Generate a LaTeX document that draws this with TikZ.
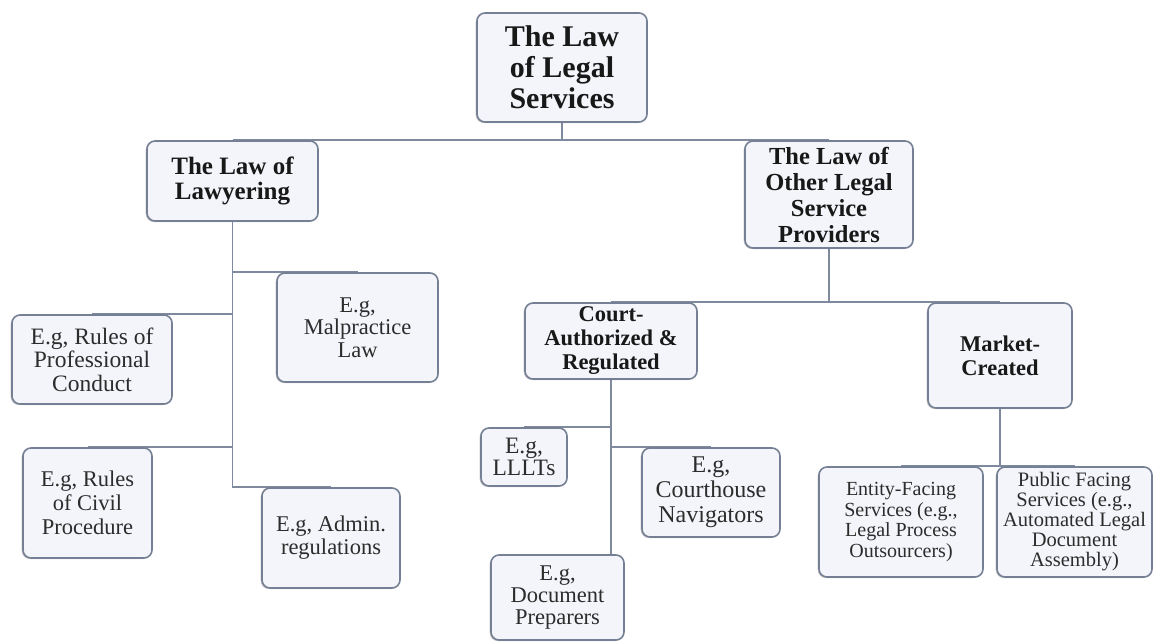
\documentclass[tikz,border=0pt]{standalone}
\usepackage{fontspec}
\setmainfont{Liberation Serif}
\usetikzlibrary{backgrounds,shadows}
\definecolor{boxfill}{RGB}{243,245,250}
\definecolor{boxline}{RGB}{118,128,148}
\definecolor{linkline}{RGB}{128,138,158}
\definecolor{headtext}{RGB}{24,24,24}
\definecolor{bodytext}{RGB}{44,44,44}
\tikzset{
  box/.style={draw=boxline, line width=1.6pt, fill=boxfill, rounded corners=8pt,
    align=center, inner sep=2pt,
    drop shadow={shadow xshift=-1.3pt, shadow yshift=-1pt, fill=black, opacity=0.22}},
  headbox/.style={box, text=headtext, font=\bfseries},
  itembox/.style={box, text=bodytext},
  link/.style={draw=linkline, line width=1.6pt},
}
\newcommand{\fsz}[2]{\fontsize{#1}{#2}\selectfont}
\begin{document}
\begin{tikzpicture}[x=1pt, y=-1pt]
\useasboundingbox (0,0) rectangle (1156,642);

% top level
\node[headbox, minimum width=170pt, minimum height=109pt, font=\bfseries\fsz{30}{31}]
  (top) at (562,67.5) {The Law\\of Legal\\Services};

% second level
\node[headbox, minimum width=171pt, minimum height=80pt, font=\bfseries\fsz{25}{25.5}]
  (law) at (232.5,181) {The Law of\\Lawyering};
\node[headbox, minimum width=168pt, minimum height=107pt, font=\bfseries\fsz{24.5}{26}]
  (other) at (829,194.5) {The Law of\\Other Legal\\Service\\Providers};

% lawyering examples
\node[itembox, minimum width=160pt, minimum height=89pt, font=\fsz{23.5}{23.5}]
  (rpc) at (92,359.5) {E.g, Rules of\\Professional\\Conduct};
\node[itembox, minimum width=161pt, minimum height=109pt, font=\fsz{22.5}{22.5}]
  (mal) at (357.5,327.5) {E.g,\\Malpractice\\Law};
\node[itembox, minimum width=129pt, minimum height=110pt, font=\fsz{22.5}{24}]
  (rcp) at (87.5,503) {E.g, Rules\\of Civil\\Procedure};
\node[itembox, minimum width=138pt, minimum height=100pt, font=\fsz{22.5}{23}]
  (adm) at (331,538) {E.g, Admin.\\regulations};

% other providers, third level
\node[headbox, minimum width=172pt, minimum height=76pt, font=\bfseries\fsz{22.5}{24}]
  (court) at (611,341) {Court-\\Authorized \&\\Regulated};
\node[headbox, minimum width=144pt, minimum height=105pt, font=\bfseries\fsz{22.5}{24}]
  (mkt) at (1000,355.5) {Market-\\Created};

% court-authorized examples
\node[itembox, minimum width=86pt, minimum height=58pt, font=\fsz{23.5}{22}]
  (lll) at (524,457) {E.g,\\LLLTs};
\node[itembox, minimum width=138pt, minimum height=89pt, font=\fsz{24}{25}]
  (crt) at (711,492.5) {E.g,\\Courthouse\\Navigators};
\node[itembox, minimum width=133pt, minimum height=85pt, font=\fsz{22.5}{22}]
  (doc) at (557.5,597.5) {E.g,\\Document\\Preparers};

% market-created examples
\node[itembox, minimum width=164pt, minimum height=110pt, font=\fsz{20}{20.5}]
  (ent) at (901,522) {Entity-Facing\\Services (e.g.,\\Legal Process\\Outsourcers)};
\node[itembox, minimum width=155pt, minimum height=110pt, font=\fsz{20.5}{20}]
  (pub) at (1074.5,522) {Public Facing\\Services (e.g.,\\Automated Legal\\Document\\Assembly)};

% white page and connectors, underneath the boxes
\begin{scope}[on background layer]
  \fill[white] (0,0) rectangle (1156,642);

  \draw[link] (top.south) -- (top.south |- law.north);
  \draw[link] (law.north) -- (other.north);

  \draw[link] (law.south) |- (adm.north);
  \draw[link] (law.south |- mal.north) -- (mal.north);
  \draw[link] (law.south |- rpc.north) -- (rpc.north);
  \draw[link] (law.south |- rcp.north) -- (rcp.north);

  \draw[link] (other.south) -- (other.south |- court.north);
  \draw[link] (court.north) -- (mkt.north);

  \draw[link] (court.south) -- (court.south |- doc.north);
  \draw[link] (court.south |- lll.north) -- (lll.north);
  \draw[link] (court.south |- crt.north) -- (crt.north);

  \draw[link] (mkt.south) -- (mkt.south |- ent.north);
  \draw[link] (ent.north) -- (pub.north);
\end{scope}
\end{tikzpicture}
\end{document}
